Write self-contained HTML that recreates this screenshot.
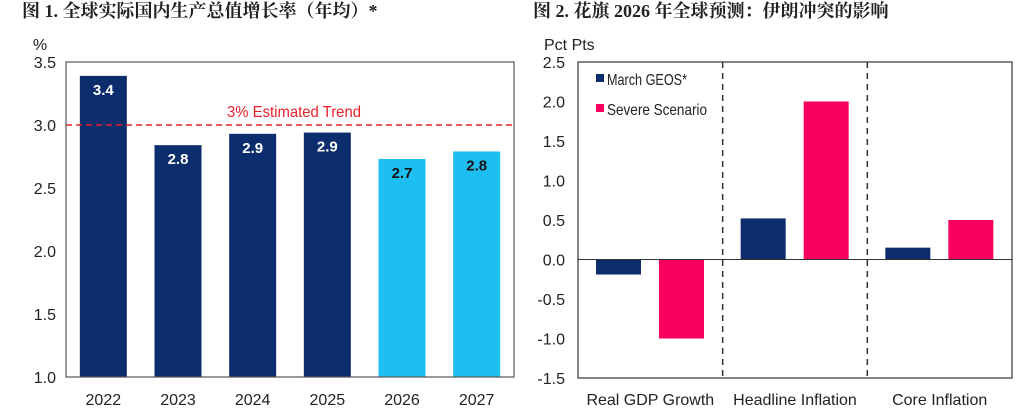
<!DOCTYPE html>
<html><head><meta charset="utf-8"><style>
body{margin:0;background:#fff;width:1022px;height:411px;overflow:hidden}
text{font-family:"Liberation Sans",Arial,sans-serif}
.t{font-family:"Liberation Serif","Noto Serif CJK SC",serif;font-weight:bold;font-size:18px;fill:#222}
</style></head><body>
<svg id="svg" width="1022" height="411" xmlns="http://www.w3.org/2000/svg">
<text class="t" x="22" y="17">图 1. 全球实际国内生产总值增长率（年均）*</text>
<text class="t" x="533" y="17">图 2. 花旗 2026 年全球预测：伊朗冲突的影响</text>
<g id="c1"></g><g id="c2"></g>
</svg>
<script>
const years=["2022","2023","2024","2025","2026","2027"];
const gdp=[3.39,2.84,2.93,2.94,2.73,2.79];
const gdpLabels=["3.4","2.8","2.9","2.9","2.7","2.8"];
const forecast=[false,false,false,false,true,true];
const ticks1=[1.0,1.5,2.0,2.5,3.0,3.5];
const trend=3.0;

const groups=["Real GDP Growth","Headline Inflation","Core Inflation"];
const march=[-0.19,0.52,0.15];
const severe=[-1.0,2.0,0.5];
const ticks2=[-1.5,-1.0,-0.5,0.0,0.5,1.0,1.5,2.0,2.5];

const NS="http://www.w3.org/2000/svg";
function mk(p,tag,a,txt){const e=document.createElementNS(NS,tag);for(const k in a)e.setAttribute(k,a[k]);if(txt!==undefined)e.textContent=txt;p.appendChild(e);return e;}

// chart 1
const c1=document.getElementById('c1');
const L1=66,R1=514,T1=62,B1=377;
const y1=v=>B1-(v-1.0)/(3.5-1.0)*(B1-T1);
const slot1=(R1-L1)/years.length;
ticks1.forEach(v=>{const e=mk(c1,'text',{x:L1-10,y:y1(v)+6,'text-anchor':'end','font-size':16,fill:'#222'},v.toFixed(1));

});
let e=mk(c1,'text',{x:40,y:50,'text-anchor':'middle','font-size':16,fill:'#222'},'%');

years.forEach((yr,i)=>{
 const cx=L1+slot1*(i+0.5),w=47;
 const b=mk(c1,'rect',{x:cx-w/2,y:y1(gdp[i]),width:w,height:B1-y1(gdp[i]),fill:forecast[i]?'#1fbef0':'#0b2d6d'});
 
 const l=mk(c1,'text',{x:cx,y:y1(gdp[i])+19,'text-anchor':'middle','font-size':15,'font-weight':'bold',fill:forecast[i]?'#111':'#fff'},gdpLabels[i]);
 
 const x=mk(c1,'text',{x:cx,y:405,'text-anchor':'middle','font-size':16,fill:'#222'},yr);
 
});
e=mk(c1,'line',{x1:L1,x2:R1,y1:y1(trend),y2:y1(trend),stroke:'#e8202a','stroke-width':1.5,'stroke-dasharray':'6,4'});

e=mk(c1,'text',{x:227,y:y1(trend)-8,'font-size':16,fill:'#e8202a',textLength:134,lengthAdjust:'spacingAndGlyphs'},'3% Estimated Trend');

e=mk(c1,'rect',{x:L1,y:T1,width:R1-L1,height:B1-T1,fill:'none',stroke:'#555','stroke-width':1.2});


// chart 2
const c2=document.getElementById('c2');
const L2=578,R2=1012,T2=62,B2=378;
const y2=v=>B2-(v+1.5)/(2.5+1.5)*(B2-T2);
const slot2=(R2-L2)/groups.length;
ticks2.forEach(v=>{const t=mk(c2,'text',{x:L2-13,y:y2(v)+6,'text-anchor':'end','font-size':16,fill:'#222'},v.toFixed(1));

});
e=mk(c2,'text',{x:544,y:50,'font-size':16,fill:'#222'},'Pct Pts');

groups.forEach((g,i)=>{
 const gx=L2+slot2*i,w=45;
 [[march[i],'#0b2d6d',18],[severe[i],'#f7005f',81]].forEach(([v,c,off],j)=>{
  const top=Math.min(y2(v),y2(0)),h=Math.abs(y2(v)-y2(0));
  const b=mk(c2,'rect',{x:gx+off,y:top,width:w,height:h,fill:c});
  
 });
 const t=mk(c2,'text',{x:gx+slot2/2,y:405,'text-anchor':'middle','font-size':16,fill:'#222'},g);
 
 if(i>0){const d=mk(c2,'line',{x1:gx,x2:gx,y1:T2,y2:B2,stroke:'#333','stroke-width':1.5,'stroke-dasharray':'6,5'});
 }
});
e=mk(c2,'line',{x1:L2,x2:R2,y1:y2(0),y2:y2(0),stroke:'#333','stroke-width':1});

e=mk(c2,'rect',{x:L2,y:T2,width:R2-L2,height:B2-T2,fill:'none',stroke:'#333','stroke-width':1.2});

[['March GEOS*','#0b2d6d',81,80],['Severe Scenario','#f7005f',111,100]].forEach(([n,c,y,tl])=>{
 const s=mk(c2,'rect',{x:596,y:y-7,width:8,height:8,fill:c});
 
 const t=mk(c2,'text',{x:607,y:y+4,'font-size':16,fill:'#222',textLength:tl,lengthAdjust:'spacingAndGlyphs'},n);
 
});
</script>
</body></html>
